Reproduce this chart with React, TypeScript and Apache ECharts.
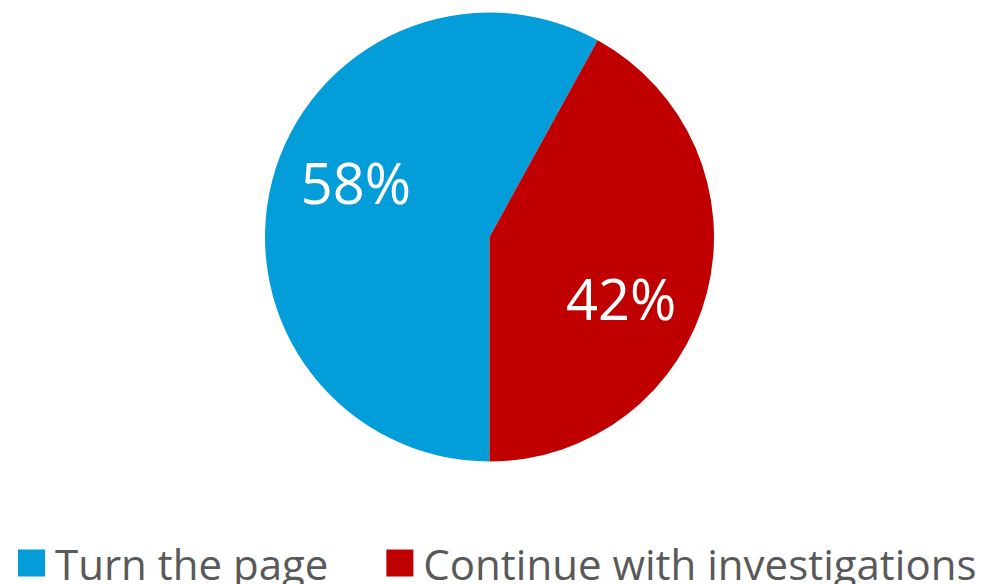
import React, { useEffect, useRef } from "react";
import * as echarts from "echarts";

const categories = ["Turn the page", "Continue with investigations"];
const values = [58, 42];
const colors = ["#039DD9", "#C00000"];
const labelOffsets = [
  [-22, -26],
  [20, 32],
];

export default function App() {
  const ref = useRef<HTMLDivElement>(null);
  useEffect(() => {
    document.body.style.margin = "0";
    const chart = echarts.init(ref.current!, null, { renderer: "svg" });
    chart.setOption({
      animation: false,
      backgroundColor: "#ffffff",
      legend: {
        data: categories,
        left: 18,
        top: 542,
        padding: 0,
        icon: "rect",
        itemWidth: 27,
        itemHeight: 27,
        itemGap: 58,
        selectedMode: false,
        textStyle: {
          fontFamily: "Open Sans",
          fontSize: 42,
          lineHeight: 42,
          color: "#595959",
          padding: [0, 0, 0, 5],
        },
      },
      series: [
        {
          type: "pie",
          center: [489.5, 237],
          radius: 224.5,
          startAngle: -90,
          clockwise: true,
          silent: true,
          data: categories.map((name, i) => ({
            name,
            value: values[i],
            itemStyle: { color: colors[i] },
          })),
          itemStyle: { borderWidth: 0 },
          label: {
            show: true,
            position: "inside",
            formatter: "{c}%",
            color: "#ffffff",
            fontFamily: "Open Sans",
            fontSize: 56,
          },
          labelLine: { show: false },
          labelLayout: (params: any) => ({
            dx: labelOffsets[params.dataIndex][0],
            dy: labelOffsets[params.dataIndex][1],
          }),
        },
      ],
    });
    return () => chart.dispose();
  }, []);
  return <div ref={ref} style={{ width: 982, height: 584 }} />;
}
